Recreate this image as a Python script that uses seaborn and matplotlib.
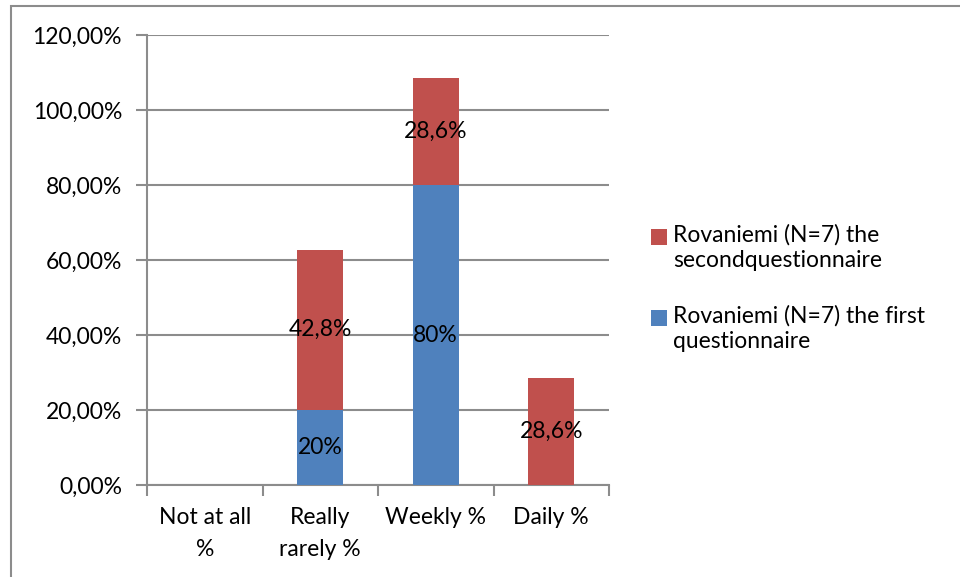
import seaborn as sns
import pandas as pd
import matplotlib.pyplot as plt
from matplotlib.patches import Rectangle
from matplotlib.ticker import FixedLocator

categories = ['Not at all\n%', 'Really\nrarely %', 'Weekly %', 'Daily %']
first = [0, 20, 80, 0]
second = [0, 42.8, 28.6, 28.6]
first_labels = ['', '20%', '80%', '']
second_labels = ['', '42,8%', '28,6%', '28,6%']
series_names = ['Rovaniemi (N=7) the\nsecondquestionnaire',
                'Rovaniemi (N=7) the first\nquestionnaire']
yticks = [0, 20, 40, 60, 80, 100, 120]

red = '#C0504D'
blue = '#4F81BD'
gray = '#8C8C8C'
fs = 16.5

sns.set_style('white')
plt.rcParams['font.family'] = ['Lato', 'DejaVu Sans']

df = pd.DataFrame({'cat': categories, 'first': first, 'second': second})
df['total'] = df['first'] + df['second']

fig = plt.figure(figsize=(9.6, 5.77), dpi=100)
ax = fig.add_axes([147 / 960, 1 - 485 / 577, (609 - 147) / 960, (485 - 35) / 577])

sns.barplot(x='cat', y='total', data=df, color=red, width=0.4,
            saturation=1, linewidth=0, ax=ax, zorder=3)
sns.barplot(x='cat', y='first', data=df, color=blue, width=0.4,
            saturation=1, linewidth=0, ax=ax, zorder=3)

for i, row in df.iterrows():
    if first_labels[i]:
        ax.text(i, row['first'] / 2, first_labels[i], ha='center', va='center',
                fontsize=fs, color='black', zorder=5)
    if second_labels[i]:
        ax.text(i, row['first'] + row['second'] / 2, second_labels[i],
                ha='center', va='center', fontsize=fs, color='black', zorder=5)

ax.set_xlim(-0.5, 3.5)
ax.set_ylim(0, 120)
ax.set_yticks(yticks)
ax.set_yticklabels([f'{v},00%' for v in yticks], fontsize=fs, color='black')
ax.set_xticks(range(4))
ax.set_xticklabels(categories, fontsize=fs, color='black', linespacing=1.65)
ax.xaxis.set_minor_locator(FixedLocator([-0.5, 0.5, 1.5, 2.5, 3.5]))
ax.tick_params(axis='x', which='major', length=0, pad=16)
ax.tick_params(axis='x', which='minor', length=8, color=gray, width=1.5,
               bottom=True)
ax.tick_params(axis='y', length=8, color=gray, width=1.5, left=True, pad=10)
ax.grid(axis='y', color=gray, linewidth=1.5, zorder=0)
ax.set_axisbelow(True)
for side in ['top', 'right']:
    ax.spines[side].set_visible(False)
for side in ['left', 'bottom']:
    ax.spines[side].set_color(gray)
    ax.spines[side].set_linewidth(1.5)
ax.set_xlabel('')
ax.set_ylabel('')

# legend drawn by hand so each square sits on the first line of its label
for k, (name, col) in enumerate(zip(series_names, [red, blue])):
    yc = 237 + k * 81
    fig.patches.append(Rectangle((651 / 960, 1 - (yc + 8) / 577), 16 / 960, 16 / 577,
                                 transform=fig.transFigure, facecolor=col,
                                 edgecolor='none'))
    fig.text(673 / 960, 1 - (yc - 13) / 577, name, ha='left', va='top',
             fontsize=fs, color='black', linespacing=1.25)

fig.patches.append(Rectangle((11 / 960, -0.1), 1.2, 1 - 6 / 577 + 0.1,
                             transform=fig.transFigure, fill=False,
                             edgecolor=gray, linewidth=1.5))

fig.savefig('out.png', dpi=100)
